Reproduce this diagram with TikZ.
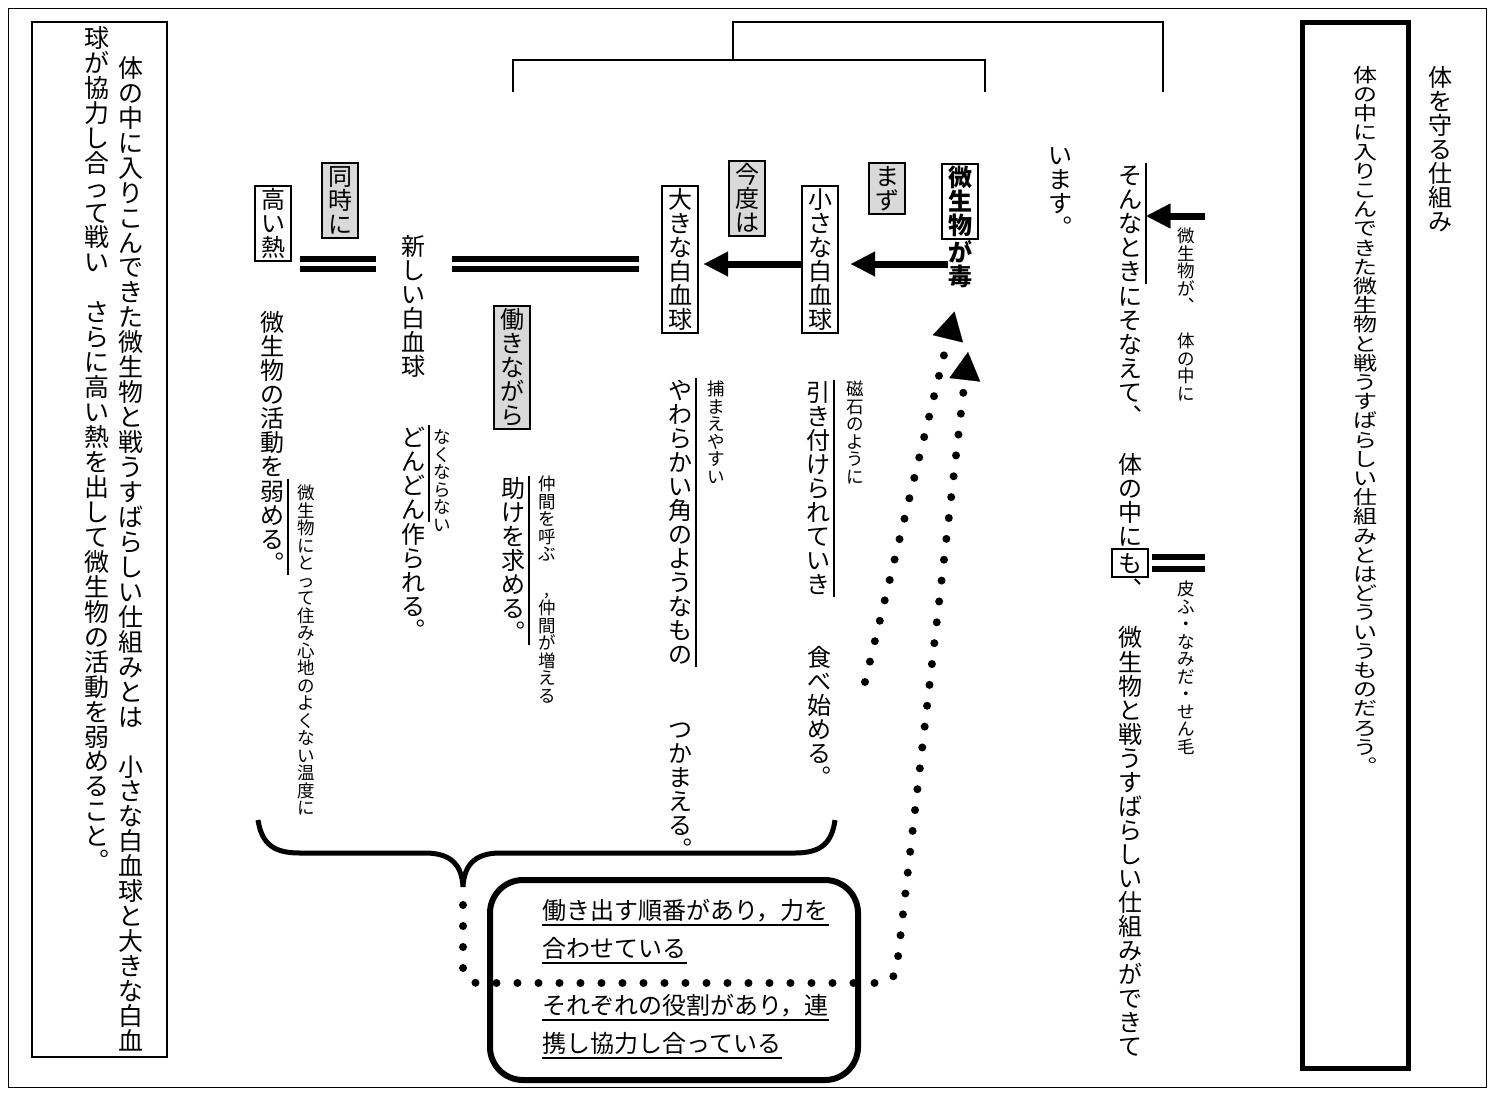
\documentclass[tikz,border=0pt]{standalone}
\usepackage{fontspec}
\setmainfont{Noto Sans CJK JP}
\usetikzlibrary{arrows.meta}
\definecolor{keygray}{gray}{0.85}
\newcommand\tatecell[1]{\hbox to 1em{\vrule height0.88em depth0.12em width0pt\hss#1\hss}}
\def\tatechar#1{\ifx#1、\tatecell{︑}\else\ifx#1。\tatecell{︒}\else\tatecell{#1}\fi\fi}
\def\tateloop#1{\ifx#1\relax\else\tatechar{#1}\expandafter\tateloop\fi}
\newcommand\tate[1]{\vbox{\offinterlineskip\tateloop#1\relax}}

\begin{document}
\begin{tikzpicture}[x=0.2mm,y=-0.2mm,
  vt/.style={anchor=north,inner sep=0pt,font=\fontsize{13.66pt}{16pt}\selectfont},
  vs/.style={vt,font=\fontsize{9.96pt}{12pt}\selectfont},
  vl/.style={vt,font=\fontsize{14.2pt}{17pt}\selectfont},
  keybox/.style={vt,draw,line width=0.4mm,inner xsep=1.2mm,inner ysep=0.3mm},
  graybox/.style={keybox,fill=keygray},
  sidetext/.style={vt,inner xsep=0.8mm},
  sideline/.style={line width=0.35mm},
  fat/.style={line width=1.4mm,-{Triangle[length=4.8mm,width=5mm,line width=0.1pt]}},
  dbar/.style={line width=1.2mm},
  dots/.style={line width=1.6mm,line cap=round,dash pattern=on 0pt off 4.2mm,-{Triangle[length=5.6mm,width=6.2mm,line width=0.1pt]}},
  hnote/.style={anchor=base west,inner sep=0pt,font=\fontsize{13.66pt}{16pt}\selectfont}]
\useasboundingbox (0,0) rectangle (1494,1095);
\draw[line width=0.2mm] (8,8) rectangle (1486,1087);
\draw[line width=0.25mm] (32,22) rectangle (167,1057);
\draw[line width=1mm] (1302,22) rectangle (1408,1068);
\draw[line width=0.3mm] (513,92) |- (985,60) -- (985,92);
\draw[line width=0.3mm] (733,60) |- (1163,22) -- (1163,92);

\node[vt] (title) at (1440,65) {\tate{体を守る仕組み}};
\node[vt,yscale=0.8] (question) at (1365,65) {\tate{体の中に入りこんできた微生物と戦うすばらしい仕組みとはどういうものだろう。}};

\node[vt] (imasu) at (1060,143) {\tate{います。}};
\node[sidetext] (sonna) at (1130,163) {\tate{そんなとき}};
\node[vt] (sonae) at (sonna.south) {\tate{にそなえて、　体の中に}};
\node[keybox] (mo) at (sonae.south) {\tate{も}};
\node[vt] (system) at (mo.south) {\tate{、　微生物と戦うすばらしい仕組みができて}};
\node[vs] (invade) at (1186,227) {\tate{微生物が、　体の中に}};
\node[vs] (skin) at (1186,580) {\tate{皮ふ・なみだ・せん毛}};
\coordinate (invtail) at (1205,216);
\draw[sideline] (sonna.north east) -- (sonna.south east);
\draw[fat] (invtail) -- (invtail -| sonna.east);
\foreach \d in {-6,6}{\draw[dbar,shorten <=0.6mm] ([yshift=\d*0.2mm]mo.east) -- ([yshift=\d*0.2mm]mo.east -| invtail);}

\node[keybox,font=\bfseries\fontsize{13.66pt}{16pt}\selectfont] (microbe) at (960,163) {\tate{微生物}};
\node[vt,font=\bfseries\fontsize{13.66pt}{16pt}\selectfont] (doku) at (microbe.south) {\tate{が毒}};
\node[graybox] (mazu) at (887,162) {\tate{まず}};
\node[keybox] (small) at (820,185) {\tate{小さな白血球}};
\node[vs] (magnet) at (855,380) {\tate{磁石のように}};
\node[sidetext] (pull) at (818,380) {\tate{引き付けられていき}};
\node[vt] (eat) at (819,645) {\tate{食べ始める。}};
\draw[sideline] (pull.north east) -- (pull.south east);

\node[graybox] (kondo) at (747,160) {\tate{今度は}};
\node[keybox] (big) at (680,185) {\tate{大きな白血球}};
\node[vs] (easy) at (716,380) {\tate{捕まえやすい}};
\node[sidetext] (horn) at (680,378) {\tate{やわらかい角のようなもの}};
\node[vt] (catch) at (680,717) {\tate{つかまえる。}};
\draw[sideline] (horn.north east) -- (horn.south east);

\coordinate (arrowrow) at (0,264);
\draw[fat,shorten >=2.4mm] (doku.west |- arrowrow) -- (small.east |- arrowrow);
\draw[fat,shorten >=1mm] (small.west |- arrowrow) -- (big.east |- arrowrow);

\node[graybox] (working) at (512,305) {\tate{働きながら}};
\node[sidetext] (help) at (513,476) {\tate{助けを求める。}};
\node[vs] (call) at (547,475) {\tate{仲間を呼ぶ　,仲間が増える}};
\draw[sideline] (help.north east) -- (help.south east);

\node[vt] (newcell) at (413,234) {\tate{新しい白血球}};
\node[sidetext] (more) at (413,425) {\tate{どんどん}};
\node[vt] (made) at (more.south) {\tate{作られる。}};
\node[vs] (never) at (442,428) {\tate{なくならない}};
\draw[sideline] (more.north east) -- (more.south east);

\node[graybox] (doji) at (340,162) {\tate{同時に}};
\node[keybox] (heat) at (273,185) {\tate{高い熱}};
\node[vt] (weak1) at (272,310) {\tate{微生物の活動を}};
\node[sidetext] (weak2) at (weak1.south) {\tate{弱める。}};
\node[vs] (temp) at (306,484) {\tate{微生物にとって住み心地のよくない温度に}};
\draw[sideline] (weak2.north east) -- (weak2.south east);

\foreach \y in {-5,5}{
  \draw[dbar,shorten <=4.4mm,shorten >=5.4mm] ([yshift=\y*0.2mm]big.west |- arrowrow) -- ([yshift=\y*0.2mm]newcell.east |- arrowrow);
  \draw[dbar,shorten <=5mm,shorten >=1.5mm] ([yshift=\y*0.2mm]newcell.west |- arrowrow) -- ([yshift=\y*0.2mm]heat.east |- arrowrow);}

\node[vl] (sum1) at (131,55) {\tate{体の中に入りこんできた微生物と戦うすばらしい仕組みとは　小さな白血球と大きな白血}};
\node[vl] (sum2) at (97,25) {\tate{球が協力し合って戦い　さらに高い熱を出して微生物の活動を弱めること。}};

\coordinate (bracetip) at (463,887);
\draw[line width=1mm] (258,820) .. controls (262,846) and (276,853) .. (300,853) -- (425,853) .. controls (452,853) and (462,866) .. (bracetip) .. controls (464,866) and (474,853) .. (500,853) -- (795,853) .. controls (822,853) and (832,842) .. (835,820);

\node[draw,line width=1.2mm,rounded corners=6.6mm,minimum width=73.6mm,minimum height=40mm] (summary) at (674,980) {};
\node[hnote] (order1) at (542,919) {働き出す順番があり，力を};
\node[hnote] (order2) at (542,957) {合わせている};
\node[hnote] (role1) at (542,1014) {それぞれの役割があり，連};
\node[hnote] (role2) at (542,1052) {携し協力し合っている};
\foreach \n in {order1,order2,role1,role2}{\draw[line width=0.4mm] ([yshift=-1.1mm]\n.base west) -- ([yshift=-1.1mm]\n.base east);}

\coordinate (d1start) at (865,682);
\coordinate (turn) at (895,983);
\coordinate (tip2) at (968,352);
\draw[dots,shorten >=4.7mm] (d1start) -- (doku.south);
\draw[dots,rounded corners=3mm] ([yshift=-3.6mm]bracetip) |- (turn) -- (tip2);
\end{tikzpicture}
\end{document}
